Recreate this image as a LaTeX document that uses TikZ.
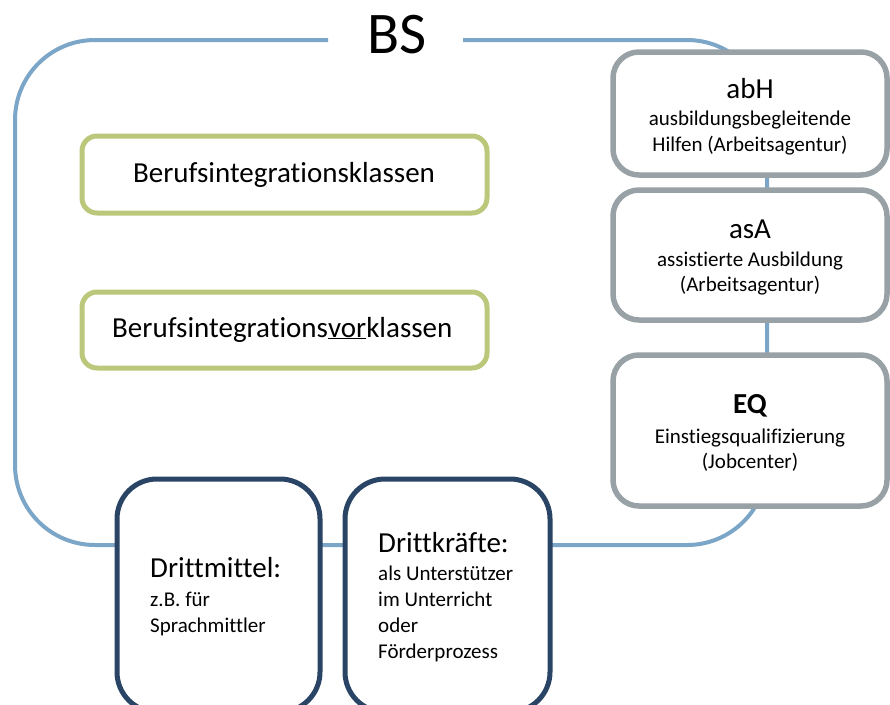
\documentclass[tikz,border=0pt]{standalone}
\usepackage{fontspec}
\setmainfont{Carlito}[Ligatures={NoCommon,NoRequired,NoContextual}]
\definecolor{bsblue}{RGB}{124,166,200}
\definecolor{bigreen}{RGB}{187,199,122}
\definecolor{agray}{RGB}{152,161,166}
\definecolor{dnavy}{RGB}{42,68,101}
\begin{document}
\begin{tikzpicture}[x=1pt,y=-1pt,
  bigtxt/.style={inner sep=0pt,anchor=base,font=\fontsize{29}{35}\selectfont},
  smalltxt/.style={inner sep=0pt,anchor=base,font=\fontsize{21}{26}\selectfont},
  greenbox/.style={draw=bigreen,line width=5pt,fill=white,rounded corners=15pt,inner sep=0pt},
  graybox/.style={draw=agray,line width=5.5pt,fill=white,rounded corners=26pt,inner sep=0pt},
  navybox/.style={draw=dnavy,line width=5pt,fill=white,rounded corners=40pt,inner sep=0pt},
  bsline/.style={draw=bsblue,line width=4pt}]
\useasboundingbox (0,0) rectangle (890,704);
\begin{scope}
\clip (0,0) rectangle (890,704);
% title
\node[inner sep=0pt,anchor=base,font=\fontsize{59}{70}\selectfont] (bs) at (397,53) {BS};
\coordinate (gl) at (328,40);
\coordinate (gr) at (463,40);
% big frame
\draw[bsline,rounded corners=80pt] (gl) -- (15,40) -- (15,545) -- (767,545) -- (767,40) -- (gr);
% green boxes
\draw[greenbox] (82,136) rectangle (487,213);
\node[bigtxt] (bik) at (284,182) {Berufsintegrationsklassen};
\draw[greenbox] (82,292) rectangle (487,368);
\node[bigtxt,anchor=base west] (bivk) at (112,337) {Berufsintegrations\underline{vor}klassen};
% gray boxes
\draw[graybox] (613,52) rectangle (887,175);
\node[bigtxt] (abh) at (750,98) {abH};
\node[smalltxt] (abh1) at (750,125) {ausbildungsbegleitende};
\node[smalltxt] (abh2) at (750,151) {Hilfen (Arbeitsagentur)};
\draw[graybox] (613,190) rectangle (887,320);
\node[bigtxt] (asa) at (750,238) {asA};
\node[smalltxt] (asa1) at (750,266) {assistierte Ausbildung};
\node[smalltxt] (asa2) at (750,291) {(Arbeitsagentur)};
\draw[graybox] (613,355) rectangle (887,506);
\node[bigtxt,font=\fontsize{29}{35}\selectfont\bfseries] (eq) at (750,413) {EQ};
\node[smalltxt] (eq1) at (750,443) {Einstiegsqualifizierung};
\node[smalltxt] (eq2) at (750,468) {(Jobcenter)};
% navy boxes
\draw[navybox] (117,479) rectangle (320,712);
\node[bigtxt,anchor=base west] (dm) at (150,577) {Drittmittel:};
\node[smalltxt,anchor=base west] (dm1) at (150,606) {z.B. für};
\node[smalltxt,anchor=base west] (dm2) at (150,632) {Sprachmittler};
\draw[navybox] (345,479) rectangle (550,712);
\node[bigtxt,anchor=base west] (dk) at (378,552) {Drittkräfte:};
\node[smalltxt,anchor=base west] (dk1) at (378,580) {als Unterstützer};
\node[smalltxt,anchor=base west] (dk2) at (378,606) {im Unterricht};
\node[smalltxt,anchor=base west] (dk3) at (378,632) {oder};
\node[smalltxt,anchor=base west] (dk4) at (378,658) {Förderprozess};
\end{scope}
\end{tikzpicture}
\end{document}
